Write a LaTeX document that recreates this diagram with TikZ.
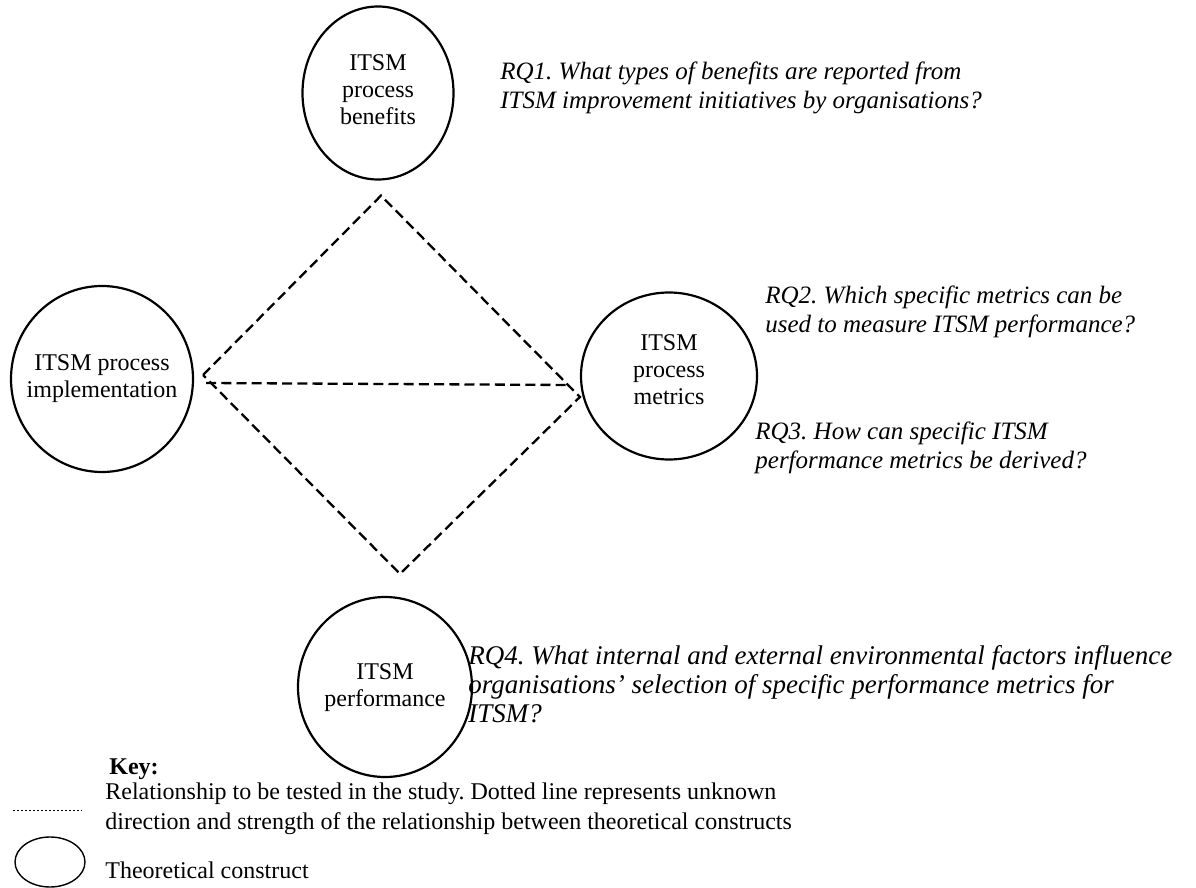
\documentclass[tikz,border=0pt]{standalone}
\usepackage{fontspec}
\setmainfont{Liberation Serif}
\usetikzlibrary{shapes.geometric}
\frenchspacing

\tikzset{
  construct/.style={draw, ellipse, line width=1.1pt, inner sep=0pt},
  construct text/.style={align=center, inner sep=0pt,
    font=\fontsize{12}{13.5}\selectfont},
  relation/.style={line width=1.15pt, dash pattern=on 5pt off 2.6pt},
  question/.style={anchor=north west, align=left, inner sep=0pt,
    font=\fontsize{12.5}{14.6}\selectfont\itshape},
  keytext/.style={anchor=north west, align=left, inner sep=0pt,
    font=\fontsize{12}{15}\selectfont}
}

\begin{document}
\begin{tikzpicture}[x=0.5pt, y=-0.5pt]
  \useasboundingbox (0,0) rectangle (1196,888);
  \node[construct, minimum width=75.5pt, minimum height=86.5pt] (benefits) at (378,93) {};
  \node[construct text] (benefits text) at (378,90) {ITSM\\process\\benefits};
  \node[construct, minimum width=91pt, minimum height=93pt] (impl) at (102,379) {};
  \node[construct text] (impl text) at (102,379) {ITSM process\\implementation};
  \node[construct, minimum width=88pt, minimum height=83.5pt] (metrics) at (669,376) {};
  \node[construct text] (metrics text) at (669,370) {ITSM\\process\\metrics};
  \node[construct, minimum width=87pt, minimum height=90pt] (perf) at (385,687) {};
  \node[construct text] (perf text) at (385,688) {ITSM\\performance};

  \coordinate (ntop) at ([xshift=1.5pt, yshift=-7.5pt]benefits.south);
  \coordinate (nleft) at ([xshift=4.5pt, yshift=2pt]impl.east);
  \coordinate (nright) at ([yshift=-10.5pt]metrics.west);
  \coordinate (nbottom) at ([xshift=7.5pt, yshift=11pt]perf.north);
  \coordinate (hleft) at ([xshift=6pt, yshift=-2pt]impl.east);
  \coordinate (hright) at ([xshift=-5.5pt, yshift=-4.5pt]metrics.west);
  \draw[relation] (nleft) -- (ntop) -- (nright) -- (nbottom) -- cycle;
  \draw[relation] (hleft) -- (hright);

  \node[question] (rq1) at (500,61)
    {RQ1. What types of benefits are reported from\\ITSM improvement initiatives by organisations?};
  \node[question] (rq2) at (765,285)
    {RQ2. Which specific metrics can be\\used to measure ITSM performance?};
  \node[question] (rq3) at (755,421)
    {RQ3. How can specific ITSM\\performance metrics be derived?};
  \node[question, font=\fontsize{13.5}{14.6}\selectfont\itshape] (rq4) at (468,645)
    {RQ4. What internal and external environmental factors influence\\organisations' selection of specific performance metrics for\\ITSM?};

  \node[keytext, font=\fontsize{12}{15}\selectfont\bfseries] (keyhead) at (109,758) {Key:};
  \node[keytext] (keyrel) at (105,782)
    {Relationship to be tested in the study. Dotted line represents unknown\\direction and strength of the relationship between theoretical constructs};
  \node[keytext] (keycon) at (105,861) {Theoretical construct};
  \coordinate (dashl) at (13,810);
  \coordinate (dashr) at (82,810);
  \draw[line width=0.5pt, dash pattern=on 1.2pt off 0.8pt] (dashl) -- (dashr);
  \node[draw, ellipse, line width=0.7pt, minimum width=35pt, minimum height=25pt] (keyshape) at (50,862) {};
\end{tikzpicture}
\end{document}
